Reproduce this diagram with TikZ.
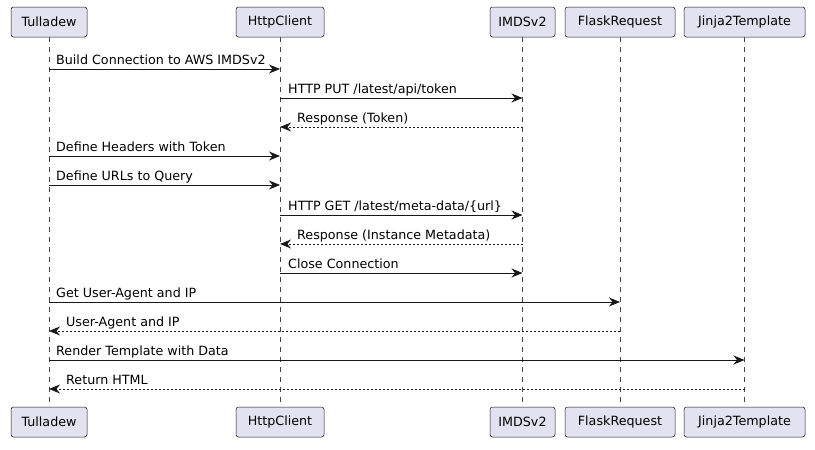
\documentclass[tikz,border=0pt]{standalone}
\usepackage{fontspec}
\setmainfont{DejaVu Sans}
\usetikzlibrary{arrows.meta}
\definecolor{pfill}{HTML}{E2E2F0}
\definecolor{pline}{HTML}{181818}
\tikzset{
  part/.style={draw=pline, fill=pfill, rounded corners=2.5pt, line width=0.5pt,
    minimum height=30pt, inner xsep=0pt, font=\fontsize{12.7}{15}\selectfont, text=black},
  life/.style={draw=pline!80, line width=0.5pt, dash pattern=on 5pt off 5pt},
  msg/.style={draw=pline, line width=1pt, -{Stealth[length=11pt,width=9pt,inset=3.5pt]}},
  reply/.style={msg, dash pattern=on 2pt off 2pt},
  lbl/.style={font=\fontsize{12.7}{15}\selectfont, inner sep=0pt, text=black},
}
\begin{document}
\begin{tikzpicture}[x=1pt,y=-1pt]
\useasboundingbox (0,0) rectangle (815,450);
% top participants
\node[part, minimum width=76pt] (t1) at (49,22) {Tulladew};
\node[part, minimum width=88pt] (t2) at (280,22) {HttpClient};
\node[part, minimum width=65pt] (t3) at (522.5,22) {IMDSv2};
\node[part, minimum width=110pt] (t4) at (620,22) {FlaskRequest};
\node[part, minimum width=121pt] (t5) at (744.5,22) {Jinja2Template};
% bottom participants
\node[part, minimum width=76pt] (b1) at (49,422) {Tulladew};
\node[part, minimum width=88pt] (b2) at (280,422) {HttpClient};
\node[part, minimum width=65pt] (b3) at (522.5,422) {IMDSv2};
\node[part, minimum width=110pt] (b4) at (620,422) {FlaskRequest};
\node[part, minimum width=121pt] (b5) at (744.5,422) {Jinja2Template};
% lifelines
\foreach \i in {1,...,5} { \draw[life] (t\i.south) -- (b\i.north); }
% rows
\coordinate (r1) at (0,69);
\coordinate (r2) at (0,98);
\coordinate (r3) at (0,127);
\coordinate (r4) at (0,156);
\coordinate (r5) at (0,185);
\coordinate (r6) at (0,215);
\coordinate (r7) at (0,244);
\coordinate (r8) at (0,273);
\coordinate (r9) at (0,302);
\coordinate (r10) at (0,331);
\coordinate (r11) at (0,360);
\coordinate (r12) at (0,389);
% messages
\draw[msg] (t1 |- r1) -- (t2 |- r1);
\node[lbl, anchor=base west] at ([xshift=7pt,yshift=5pt]t1 |- r1) {Build Connection to AWS IMDSv2};
\draw[msg] (t2 |- r2) -- (t3 |- r2);
\node[lbl, anchor=base west] at ([xshift=8pt,yshift=5pt]t2 |- r2) {HTTP PUT /latest/api/token};
\draw[reply] (t3 |- r3) -- (t2 |- r3);
\node[lbl, anchor=base west] at ([xshift=17pt,yshift=5pt]t2 |- r3) {Response (Token)};
\draw[msg] (t1 |- r4) -- (t2 |- r4);
\node[lbl, anchor=base west] at ([xshift=7pt,yshift=5pt]t1 |- r4) {Define Headers with Token};
\draw[msg] (t1 |- r5) -- (t2 |- r5);
\node[lbl, anchor=base west] at ([xshift=7pt,yshift=5pt]t1 |- r5) {Define URLs to Query};
\draw[msg] (t2 |- r6) -- (t3 |- r6);
\node[lbl, anchor=base west] at ([xshift=8pt,yshift=5pt]t2 |- r6) {HTTP GET /latest/meta-data/\{url\}};
\draw[reply] (t3 |- r7) -- (t2 |- r7);
\node[lbl, anchor=base west] at ([xshift=17pt,yshift=5pt]t2 |- r7) {Response (Instance Metadata)};
\draw[msg] (t2 |- r8) -- (t3 |- r8);
\node[lbl, anchor=base west] at ([xshift=8pt,yshift=5pt]t2 |- r8) {Close Connection};
\draw[msg] (t1 |- r9) -- (t4 |- r9);
\node[lbl, anchor=base west] at ([xshift=7pt,yshift=5pt]t1 |- r9) {Get User-Agent and IP};
\draw[reply] (t4 |- r10) -- (t1 |- r10);
\node[lbl, anchor=base west] at ([xshift=17pt,yshift=5pt]t1 |- r10) {User-Agent and IP};
\draw[msg] (t1 |- r11) -- (t5 |- r11);
\node[lbl, anchor=base west] at ([xshift=7pt,yshift=5pt]t1 |- r11) {Render Template with Data};
\draw[reply] (t5 |- r12) -- (t1 |- r12);
\node[lbl, anchor=base west] at ([xshift=17pt,yshift=5pt]t1 |- r12) {Return HTML};
\end{tikzpicture}
\end{document}
